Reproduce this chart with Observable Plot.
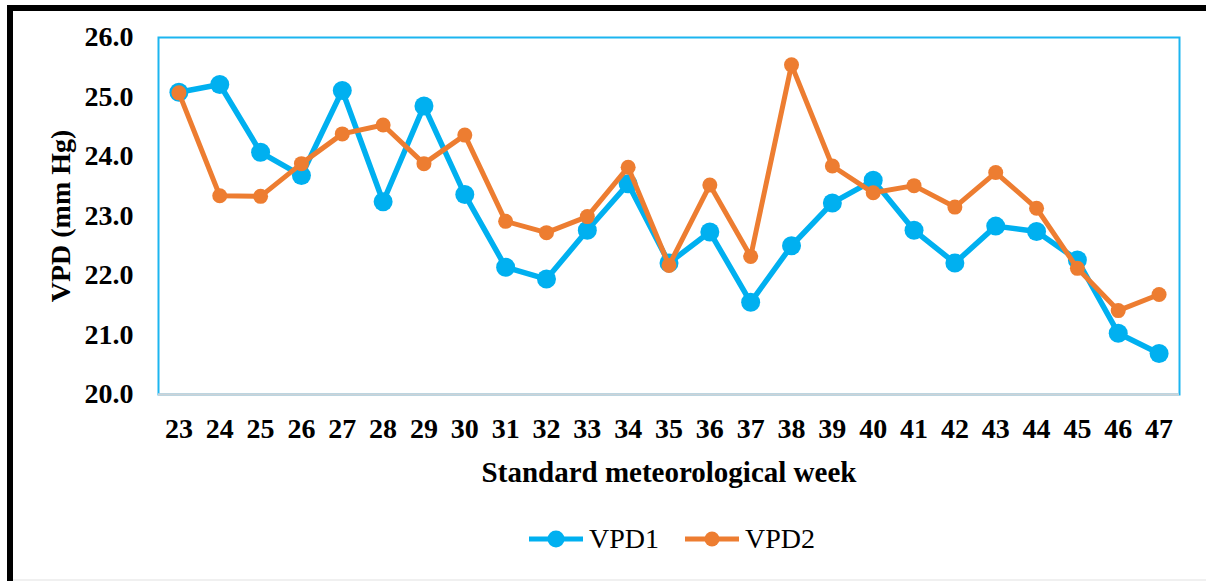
<!DOCTYPE html>
<html>
<head>
<meta charset="utf-8">
<script src="https://cdn.jsdelivr.net/npm/d3@7"></script>
<script src="https://cdn.jsdelivr.net/npm/@observablehq/plot@0.6"></script>
<style>
  html, body { margin: 0; padding: 0; background: #fff; }
  #wrap { position: relative; width: 1206px; height: 581px; overflow: hidden; background: #fff; }
  #chart { position: absolute; left: 0; top: 0; }
  .bar-top { position: absolute; left: 7px; top: 5px; width: 1199px; height: 6px; background: #000; }
  .bar-left { position: absolute; left: 7px; top: 5px; width: 6px; height: 576px; background: #000; }
  .bar-bottom { position: absolute; left: 13px; top: 579px; width: 1193px; height: 2px; background: #f0f0f0; }
  #legend { position: absolute; top: 522px; left: 529px; display: flex; align-items: center; height: 34px;
            font-family: "Liberation Serif", "Times New Roman", serif; font-size: 28px; color: #000; }
  #legend .item { display: flex; align-items: center; margin-right: 26px; }
  #legend svg { margin-right: 6px; }
</style>
</head>
<body>
<div id="wrap">
  <div id="chart"></div>
  <div class="bar-top"></div>
  <div class="bar-left"></div>
  <div class="bar-bottom"></div>
  <div id="legend"></div>
</div>
<script>
// Data
const weeks = [23, 24, 25, 26, 27, 28, 29, 30, 31, 32, 33, 34, 35, 36, 37, 38, 39, 40, 41, 42, 43, 44, 45, 46, 47];
const vpd1 = [25.08, 25.21, 24.07, 23.68, 25.11, 23.24, 24.85, 23.36, 22.14, 21.94, 22.76, 23.54, 22.21, 22.73, 21.55, 22.50, 23.22, 23.60, 22.76, 22.21, 22.83, 22.74, 22.26, 21.03, 20.69];
const vpd2 = [25.07, 23.34, 23.33, 23.88, 24.38, 24.53, 23.88, 24.36, 22.91, 22.72, 22.99, 23.82, 22.17, 23.52, 22.32, 25.54, 23.84, 23.39, 23.51, 23.15, 23.73, 23.13, 22.12, 21.41, 21.68];
const seriesNames = ["VPD1", "VPD2"];
const yTicks = [20, 21, 22, 23, 24, 25, 26];
const xLabel = "Standard meteorological week";
const yLabel = "VPD (mm Hg)";

const colors = {VPD1: "#00B0F0", VPD2: "#ED7D31"};
const d1 = weeks.map((w, i) => ({week: w, v: vpd1[i]}));
const d2 = weeks.map((w, i) => ({week: w, v: vpd2[i]}));

const font = "Liberation Serif";

const chart = Plot.plot({
  width: 1206,
  height: 500,
  marginTop: 37,
  marginLeft: 158,
  marginRight: 27,
  marginBottom: 106,
  style: {fontFamily: font, fontSize: "28px", color: "#000", background: "transparent", overflow: "visible"},
  x: {type: "point", domain: weeks, padding: 0.5, round: false},
  y: {domain: [20, 26]},
  marks: [
    Plot.frame({stroke: "#1CB5F0", strokeWidth: 2}),
    Plot.ruleY([20], {stroke: "#CCD3D8", strokeWidth: 2.5}),
    Plot.axisY({ticks: yTicks, tickSize: 0, tickPadding: 25, tickFormat: d => d.toFixed(1),
      label: yLabel, labelAnchor: "center", labelOffset: 108, labelArrow: "none",
      fontSize: 28, fontWeight: "bold", fontFamily: font}),
    Plot.axisX({tickSize: 0, tickPadding: 24, tickFormat: d => String(d),
      fontSize: 28, fontWeight: "bold", fontFamily: font, label: null}),
    Plot.axisX({ticks: [], tickSize: 0,
      label: xLabel, labelAnchor: "center", labelOffset: 87, labelArrow: "none",
      fontSize: 29, fontWeight: "bold", fontFamily: font}),
    Plot.line(d1, {x: "week", y: "v", stroke: colors.VPD1, strokeWidth: 5.5}),
    Plot.dot(d1, {x: "week", y: "v", r: 9.5, fill: colors.VPD1}),
    Plot.line(d2, {x: "week", y: "v", stroke: colors.VPD2, strokeWidth: 5}),
    Plot.dot(d2, {x: "week", y: "v", r: 7.5, fill: colors.VPD2})
  ]
});
document.getElementById("chart").appendChild(chart);

// Legend
const legend = document.getElementById("legend");
seriesNames.forEach((name, i) => {
  const item = document.createElement("div");
  item.className = "item";
  const big = i === 0;
  item.innerHTML = `<svg width="54" height="20" viewBox="0 0 54 20">
      <line x1="0" y1="10" x2="54" y2="10" stroke="${colors[name]}" stroke-width="5"/>
      <circle cx="27" cy="10" r="${big ? 8.5 : 7.5}" fill="${colors[name]}"/>
    </svg><span>${name}</span>`;
  legend.appendChild(item);
});
</script>
</body>
</html>
